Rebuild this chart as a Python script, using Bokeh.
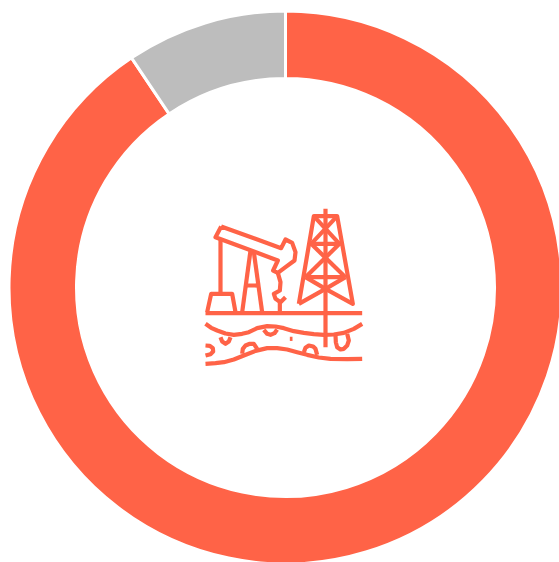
from math import pi
from bokeh.plotting import figure
from bokeh.models import Range1d
from bokeh.embed import file_html
from bokeh.resources import INLINE

categories = ["main", "other"]
values = [90.6, 9.4]
colors = ["#FF6347", "#BDBDBD"]

W, H = 559, 562
CX, CY = 285, 287      # page px
R_OUT, R_IN = 276.5, 209

p = figure(width=W, height=H, output_backend="svg", toolbar_location=None,
           x_range=Range1d(0, W), y_range=Range1d(0, H),
           min_border=0, outline_line_color=None)
p.axis.visible = False
p.grid.visible = False
p.background_fill_color = "white"
p.border_fill_color = "white"

def py(y):
    return 562 - y

total = sum(values)
start = pi / 2
for v, c in zip(values, colors):
    sweep = 2 * pi * v / total
    p.annular_wedge(x=[CX], y=[py(CY)], inner_radius=R_IN, outer_radius=R_OUT,
                    start_angle=[start - sweep], end_angle=[start], direction="anticlock",
                    fill_color=c, line_color="white", line_width=3)
    start -= sweep

# icon outline, in a local 3x grid
icon = [
    [(92,93),(272,158),(285,132),(305,142),(315,170),(312,195),(285,215),(262,232),(248,225),(262,195),(75,125),(92,93)],
    [(90,130),(90,295)],
    [(50,350),(62,295),(125,295),(135,350)],
    [(180,165),(155,350)], [(190,170),(215,350)], [(165,270),(205,270)],
    [(262,232),(270,260),(268,285),(250,295),(255,310),(270,320),(285,305)],
    [(268,320),(268,352)],
    [(45,353),(515,353)],
    [(405,40),(405,455)],
    [(325,325),(370,62),(440,62),(487,325),(405,280),(325,325)],
    [(360,145),(450,145)], [(345,245),(465,245)],
    [(370,62),(447,145)], [(440,62),(362,145)],
    [(362,145),(465,245)], [(447,145),(345,245)],
    [(345,245),(405,280)], [(465,245),(405,280)],
    [(45,385),(62,397),(80,405),(105,414),(130,418),(155,415),(175,410),(200,398),(230,392),(255,393),(280,398),(310,407),(340,412),(370,416),(400,418),(430,417),(460,412),(490,400),(515,385)],
    [(45,505),(75,503),(100,500),(130,492),(160,480),(195,466),(230,458),(260,458),(290,462),(320,470),(350,478),(385,486),(420,490),(470,491),(515,490)],
    [(90,425),(95,438),(105,445),(115,438),(120,425)],
    [(220,403),(230,415),(240,418),(252,413),(260,402)],
    [(155,475),(157,460),(165,450),(178,445),(190,445),(200,460)],
    [(340,470),(345,457),(355,450),(368,453),(375,460),(380,478)],
    [(435,420),(436,440),(440,455),(450,462),(460,460),(470,450),(475,435),(470,415)],
    [(45,450),(58,451),(67,458),(68,468),(60,476),(45,480)],
    [(298,430),(306,430)],
]
OX, OY = 190, 195
xs = [[OX + a / 3 for a, b in path] for path in icon]
ys = [[py(OY + b / 3) for a, b in path] for path in icon]
p.multi_line(xs, ys, line_color="#FF6347", line_width=4.2, line_join="round", line_cap="butt")

open("out.html", "w").write(file_html(p, INLINE))
